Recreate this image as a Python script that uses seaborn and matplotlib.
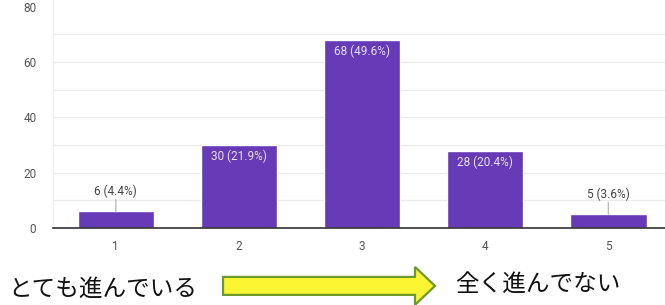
import matplotlib
matplotlib.use('Agg')
import matplotlib.pyplot as plt
import seaborn as sns
from matplotlib.patches import FancyArrow

# data
levels = ['1', '2', '3', '4', '5']
counts = [6, 30, 68, 28, 5]
percents = [4.4, 21.9, 49.6, 20.4, 3.6]
yticks = [0, 20, 40, 60, 80]
left_label = 'とても進んでいる'
right_label = '全く進んでない'

purple = '#673ab7'

sns.set_style('white')
plt.rcParams['font.family'] = ['Roboto', 'Noto Sans CJK JP', 'DejaVu Sans']

fig = plt.figure(figsize=(6.65, 3.05), dpi=100)
ax = fig.add_axes([53 / 665, 77 / 305, 1 - 53 / 665, 228 / 305])

sns.barplot(x=levels, y=counts, color=purple, saturation=1, width=0.62, ax=ax, zorder=2)

ax.set_ylim(0, 82.4)
ax.set_xlim(-0.51, 4.46)
ax.set_yticks(yticks)
ax.set_yticks(range(10, 80, 20), minor=True)
ax.yaxis.grid(True, which='both', color='#ebebeb', lw=1, zorder=0)
ax.get_ygridlines()[-1].set_visible(False)
ax.set_axisbelow(True)
ax.tick_params(axis='both', which='both', length=0, labelsize=8.5, labelcolor='#555555')
ax.tick_params(axis='x', pad=9)
ax.tick_params(axis='y', pad=12)
ax.set_xlabel('')
ax.set_ylabel('')
for side in ['top', 'right']:
    ax.spines[side].set_visible(False)
ax.spines['left'].set_color('#eeeeee')
ax.spines['bottom'].set_color('#333333')
ax.spines['bottom'].set_linewidth(1.2)

for i, (c, p) in enumerate(zip(counts, percents)):
    txt = '{} ({}%)'.format(c, p)
    if c > 15:
        ax.annotate(txt, xy=(i, c), xytext=(0, -8.5), textcoords='offset points',
                    ha='center', va='center', fontsize=8.5, color='#e8e0f5')
    else:
        ax.annotate(txt, xy=(i, c), xytext=(0, 14.5), textcoords='offset points',
                    ha='center', va='center', fontsize=8.5, color='#444444')
        ax.annotate('', xy=(i, c), xytext=(0, 8.5), textcoords='offset points',
                    arrowprops=dict(arrowstyle='-', color='#bdbdbd', lw=1,
                                    shrinkA=0, shrinkB=0))

# bottom scale with the arrow
fig.text(8 / 665, 1 - 289 / 305, left_label, fontsize=17, va='center', ha='left',
         family=['Noto Sans CJK JP', 'DejaVu Sans'], color='#111111')
fig.text(455 / 665, 1 - 285 / 305, right_label, fontsize=17, va='center', ha='left',
         family=['Noto Sans CJK JP', 'DejaVu Sans'], color='#111111')
arrow = FancyArrow(2.23, 0.191, 2.12, 0, width=0.18, head_width=0.38, head_length=0.2,
                   length_includes_head=True, transform=fig.dpi_scale_trans,
                   facecolor='#fbf532', edgecolor='#6f9a2b', lw=1.6)
fig.patches.append(arrow)

fig.savefig('out.png', dpi=100)
